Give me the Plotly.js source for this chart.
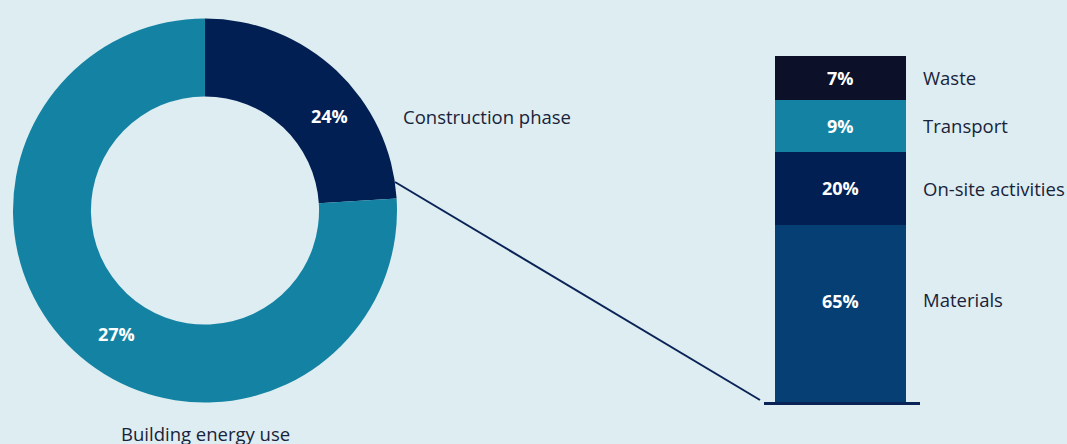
<!DOCTYPE html>
<html>
<head>
<meta charset="utf-8">
<script src="https://cdn.plot.ly/plotly-3.0.1.min.js"></script>
<style>html,body{margin:0;padding:0;background:#deedf2;}#chart{width:1067px;height:444px;}</style>
</head>
<body>
<div id="chart"></div>
<script>
// Donut: slice sizes as drawn, and the labels printed on them
const donutCategories = ["Construction phase", "Building energy use"];
const donutShares = [24, 76];
const donutLabels = ["24%", "27%"];

// Stacked bar (bottom to top): visual segment sizes and printed labels
const barCategories = ["Materials", "On-site activities", "Transport", "Waste"];
const barShares = [51.2, 21.1, 15.0, 12.7];
const barLabels = ["65%", "20%", "9%", "7%"];

const BG = "#deedf2";
const TEAL = "#1483a3";
const NAVY = "#011f52";
const barColors = ["#053f73", "#011f52", "#1483a3", "#0c1129"];
const TEXT = "#18233a";
const FONT = "Open Sans, sans-serif";
const LABEL_SIZE = 18.5;
const PCT_SIZE = 18;

const W = 1067, H = 444;
const px = x => x / W;
const py = y => 1 - y / H;

const traces = [{
  type: "pie",
  labels: donutCategories,
  values: donutShares,
  sort: false,
  direction: "clockwise",
  rotation: 0,
  hole: 0.594,
  marker: {colors: [NAVY, TEAL], line: {width: 0}},
  textinfo: "none",
  showlegend: false,
  domain: {x: [px(13), px(397)], y: [py(402.5), py(18.5)]}
}];

barCategories.forEach((c, i) => {
  traces.push({
    type: "bar",
    name: c,
    x: [0.49],
    y: [barShares[i]],
    width: [131 / 156],
    marker: {color: barColors[i], line: {width: 0}},
    showlegend: false,
    xaxis: "x", yaxis: "y"
  });
});

const annotations = [];
// donut labels
annotations.push({xref: "paper", yref: "paper", x: px(329), y: py(116), text: "<b>" + donutLabels[0] + "</b>",
  showarrow: false, font: {family: FONT, size: PCT_SIZE, color: "#ffffff"}, xanchor: "center", yanchor: "middle"});
annotations.push({xref: "paper", yref: "paper", x: px(116), y: py(334), text: "<b>" + donutLabels[1] + "</b>",
  showarrow: false, font: {family: FONT, size: PCT_SIZE, color: "#ffffff"}, xanchor: "center", yanchor: "middle"});
annotations.push({xref: "paper", yref: "paper", x: px(401), y: py(116), text: donutCategories[0],
  showarrow: false, font: {family: FONT, size: LABEL_SIZE, color: TEXT}, xanchor: "left", yanchor: "middle"});
annotations.push({xref: "paper", yref: "paper", x: px(205), y: py(433), text: donutCategories[1],
  showarrow: false, font: {family: FONT, size: LABEL_SIZE, color: TEXT}, xanchor: "center", yanchor: "middle"});

// bar labels
let cum = 0;
barCategories.forEach((c, i) => {
  const mid = cum + barShares[i] / 2;
  cum += barShares[i];
  const shift = i === 0 ? 12 : 0;
  annotations.push({xref: "x", yref: "y", x: 0.49, y: mid, yshift: shift, text: "<b>" + barLabels[i] + "</b>",
    showarrow: false, font: {family: FONT, size: PCT_SIZE, color: "#ffffff"}, xanchor: "center", yanchor: "middle"});
  annotations.push({xref: "paper", yref: "y", x: px(921), y: mid, yshift: i === 0 ? 14 : 0, text: c,
    showarrow: false, font: {family: FONT, size: LABEL_SIZE, color: TEXT}, xanchor: "left", yanchor: "middle"});
});

const layout = {
  width: W, height: H,
  margin: {l: 0, r: 0, t: 0, b: 0, pad: 0},
  paper_bgcolor: BG, plot_bgcolor: BG,
  barmode: "stack",
  font: {family: FONT, color: TEXT},
  xaxis: {domain: [px(764), px(920)], range: [0, 1], showgrid: false, zeroline: false,
    showticklabels: false, ticks: "", showline: true, linecolor: "#0a2356", linewidth: 2.5, fixedrange: true},
  yaxis: {domain: [py(402), py(56)], range: [0, 100], showgrid: false, zeroline: false,
    showticklabels: false, ticks: "", showline: false, fixedrange: true},
  shapes: [{type: "line", xref: "paper", yref: "paper", x0: px(395), y0: py(182), x1: px(760), y1: py(400),
    line: {color: "#0a2356", width: 2}}],
  annotations: annotations
};

Plotly.newPlot("chart", traces, layout, {displayModeBar: false, staticPlot: true});
</script>
</body>
</html>
